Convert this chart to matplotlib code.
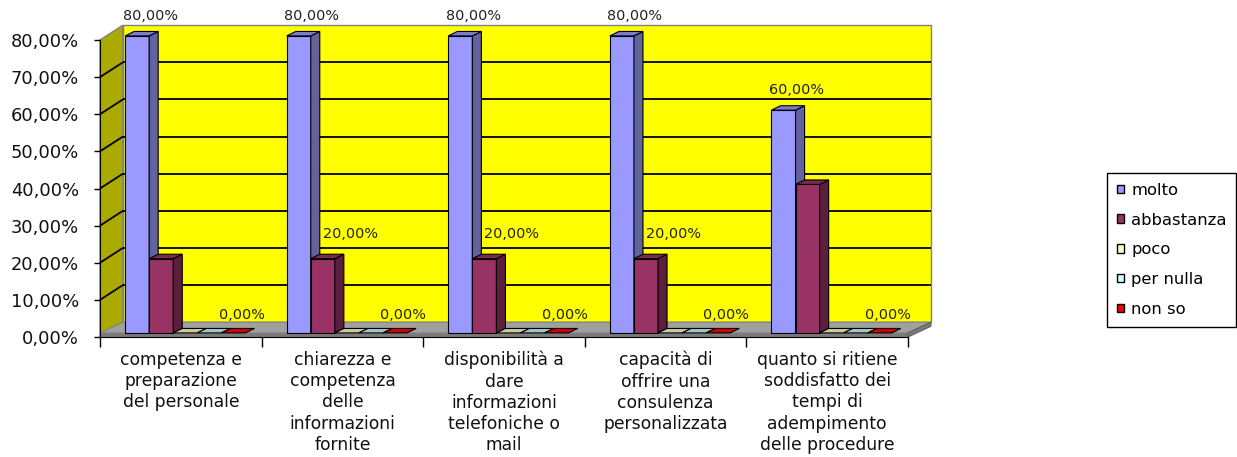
import matplotlib
matplotlib.use("Agg")
import matplotlib.pyplot as plt
from matplotlib.patches import Polygon, Patch

# --- data -------------------------------------------------------------
categories = [
    "competenza e\npreparazione\ndel personale",
    "chiarezza e\ncompetenza\ndelle\ninformazioni\nfornite",
    "disponibilità a\ndare\ninformazioni\ntelefoniche o\nmail",
    "capacità di\noffrire una\nconsulenza\npersonalizzata",
    "quanto si ritiene\nsoddisfatto dei\ntempi di\nadempimento\ndelle procedure",
]
series_names = ["molto", "abbastanza", "poco", "per nulla", "non so"]
molto = [80, 80, 80, 80, 60]
abbastanza = [20, 20, 20, 20, 40]
poco = [0, 0, 0, 0, 0]
per_nulla = [0, 0, 0, 0, 0]
non_so = [0, 0, 0, 0, 0]
series_values = [molto, abbastanza, poco, per_nulla, non_so]
# which bars carry a value label
labelled = [
    [True, True, True, True, True],
    [False, True, True, True, False],
    [False] * 5,
    [False] * 5,
    [True, True, True, True, True],
]
y_ticks = [0, 10, 20, 30, 40, 50, 60, 70, 80]

# --- styling ------------------------------------------------------------
front_col = ["#9999FF", "#993366", "#FFFFCC", "#CCFFFF", "#FF0000"]
top_col = ["#7B7BD0", "#7A2952", "#CCC8A2", "#9CC8C8", "#CC0000"]
side_col = ["#62629F", "#5B1E3D", "#A8A585", "#7FA3A3", "#A00000"]

W, H = 1237, 457
fig = plt.figure(figsize=(W / 100, H / 100), dpi=100)
fig.patch.set_facecolor("white")
ax = fig.add_axes([100 / W, (H - 337) / H, 808 / W, 297 / H])
ax.set_xlim(0, 5)
ax.set_ylim(0, 80)
ax.set_facecolor("none")

# 3-D depth offsets (data units)
dx, dy = 0.142, 4.0          # walls / floor depth
bdx, bdy = 0.056, 1.2        # bar depth
floor_t = 1.1                # floor thickness
bar_w = 0.149
bar_off = 0.155
ymax = y_ticks[-1]
ncat = len(categories)

def poly(pts, fc, ec="black", lw=0.8, z=1):
    ax.add_patch(Polygon(pts, closed=True, facecolor=fc, edgecolor=ec,
                         linewidth=lw, zorder=z, clip_on=False,
                         joinstyle="miter"))

# left wall
poly([(0, 0), (0, ymax), (dx, ymax + dy), (dx, dy)], "#AAAA00",
     ec="#808080", lw=1.0, z=1)
# back wall
poly([(dx, dy), (dx, ymax + dy), (ncat + dx, ymax + dy), (ncat + dx, dy)],
     "#FFFF00", ec="#808080", lw=1.0, z=1)
# gridlines on both walls
for v in y_ticks[1:-1]:
    ax.plot([0, dx], [v, v + dy], color="black", lw=1.3, zorder=2,
            clip_on=False, solid_capstyle="butt")
    ax.plot([dx, ncat + dx], [v + dy, v + dy], color="black", lw=1.3,
            zorder=2, clip_on=False, solid_capstyle="butt")
# floor: top surface, front edge and right side
poly([(0, floor_t), (ncat, floor_t), (ncat + dx, dy), (dx, dy)], "#A0A0A0",
     ec="#808080", lw=0.8, z=3)
poly([(0, 0), (ncat, 0), (ncat, floor_t), (0, floor_t)], "#7A7A7A",
     ec="#808080", lw=0.8, z=3)
poly([(ncat, 0), (ncat + dx, dy - floor_t), (ncat + dx, dy), (ncat, floor_t)],
     "#7A7A7A", ec="#606060", lw=0.8, z=3)

# bars
z = 4
for c in range(ncat):
    for s, vals in enumerate(series_values):
        v = vals[c]
        x0 = c + bar_off + s * bar_w
        x1 = x0 + bar_w
        b = floor_t
        tp = b + v
        if v > 0:
            poly([(x0, b), (x1, b), (x1, tp), (x0, tp)], front_col[s], z=z)
            poly([(x1, b), (x1 + bdx, b + bdy), (x1 + bdx, tp + bdy), (x1, tp)],
                 side_col[s], z=z)
        poly([(x0, tp), (x1, tp), (x1 + bdx, tp + bdy), (x0 + bdx, tp + bdy)],
             top_col[s], z=z)
        z += 1

# value labels
lab_dx = [0.08, 0.17, 0.0, 0.0, 0.05]
lab_dy = [2.3, 3.6, 0.0, 0.0, 1.7]
for s, vals in enumerate(series_values):
    for c, v in enumerate(vals):
        if not labelled[s][c]:
            continue
        xc = c + bar_off + s * bar_w + bar_w / 2 + lab_dx[s]
        ax.text(xc, floor_t + v + bdy + lab_dy[s],
                f"{v:.2f}".replace(".", ",") + "%",
                ha="center", va="bottom", fontsize=10.4, color="#222222",
                zorder=100, clip_on=False)

# axes decoration
for sp in ["top", "right"]:
    ax.spines[sp].set_visible(False)
ax.spines["left"].set_color("black")
ax.spines["bottom"].set_color("black")
ax.spines["left"].set_zorder(50)
ax.spines["bottom"].set_zorder(50)
ax.set_yticks(y_ticks)
ax.set_yticklabels([f"{t:.2f}".replace(".", ",") + "%" for t in y_ticks],
                   fontsize=12.9, color="#111111")
ax.tick_params(axis="y", length=4, width=1, pad=11)
ax.set_xticks([c + 0.5 for c in range(ncat)])
ax.set_xticklabels(categories, fontsize=12.3, linespacing=1.23,
                   color="#111111")
ax.tick_params(axis="x", which="major", length=0, pad=10)
ax.set_xticks(range(ncat + 1), minor=True)
ax.tick_params(axis="x", which="minor", length=7, width=1, direction="out")

# legend
handles = [Patch(facecolor=front_col[i], edgecolor="black", linewidth=1.0)
           for i in range(len(series_names))]
leg = fig.legend(handles, series_names, loc="upper left",
                 bbox_to_anchor=(1107 / W, 1 - 173 / H), borderaxespad=0,
                 fontsize=11.8, handlelength=0.42, handleheight=0.42,
                 handletextpad=0.45, labelspacing=0.9, borderpad=0.6,
                 fancybox=False, framealpha=1, edgecolor="black")
leg.get_frame().set_linewidth(1.0)

fig.savefig("out.png", dpi=100, facecolor="white")
